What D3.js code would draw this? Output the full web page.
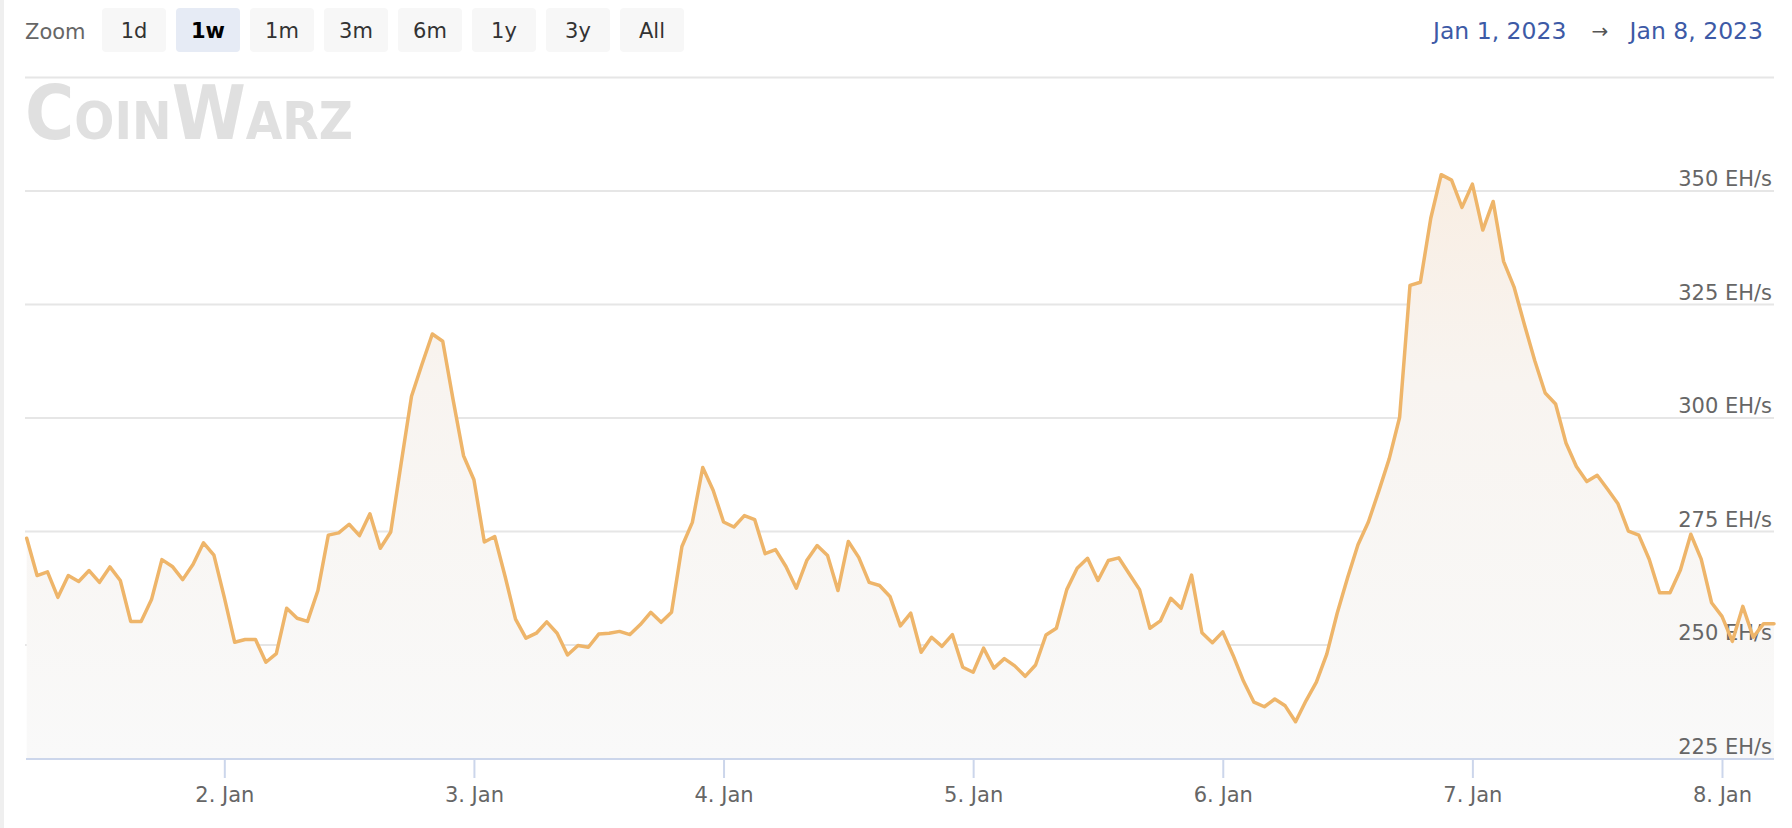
<!DOCTYPE html>
<html><head><meta charset="utf-8">
<script src="https://cdn.jsdelivr.net/npm/d3@7"></script>
<style>
html,body{margin:0;padding:0;background:#fff;}
svg{display:block;font-family:"DejaVu Sans",sans-serif;}
</style>
</head><body>
<svg id="chart" width="1792" height="828"></svg>
<script>
// ---------------- data ----------------
const startTime = "2023-01-01T05:00:00Z";   // first sample
const stepHours = 1;                          // hourly samples
const hashrate = [
 273.5,265.3,266.1,260.5,265.3,264.0,266.4,263.8,267.2,264.2,255.2,255.2,260.0,268.8,267.3,264.4,
 267.8,272.5,269.8,260.5,250.6,251.2,251.2,246.2,248.1,258.1,255.9,255.2,262.0,274.2,274.7,276.6,
 274.1,278.9,271.3,274.9,290.0,304.8,311.8,318.5,316.9,304.0,291.7,286.4,272.7,273.9,265.1,255.7,
 251.5,252.6,255.1,252.6,247.8,249.9,249.5,252.4,252.6,253.0,252.3,254.5,257.2,255.0,257.2,271.7,
 277.0,289.1,284.1,277.1,276.0,278.5,277.6,270.1,271.0,267.3,262.5,268.6,271.9,269.7,262.0,272.8,
 269.3,263.8,263.1,260.7,254.2,257.0,248.4,251.7,249.7,252.3,245.1,244.0,249.3,244.9,247.0,245.4,
 243.1,245.6,252.2,253.7,262.2,266.9,269.1,264.2,268.6,269.2,265.7,262.2,253.7,255.3,260.3,258.1,
 265.4,252.7,250.5,252.9,247.7,242.0,237.4,236.4,238.1,236.6,233.1,237.7,241.8,248.0,257.0,264.8,
 272.1,277.1,283.9,291.0,300.1,329.2,329.9,344.0,353.6,352.4,346.4,351.5,341.4,347.7,334.5,328.9,
 320.6,312.6,305.5,303.1,294.5,289.3,286.0,287.4,284.3,281.1,275.1,274.2,268.9,261.5,261.5,266.5,
 274.4,268.9,259.3,256.3,250.8,258.5,251.7,254.7,254.7
];
const yGridValues = [225, 250, 275, 300, 325, 350, 375];
const yLabelValues = [225, 250, 275, 300, 325, 350];
const yUnit = "EH/s";
const xTickDates = ["2023-01-02","2023-01-03","2023-01-04","2023-01-05","2023-01-06","2023-01-07","2023-01-08"];
const zoomButtons = ["1d","1w","1m","3m","6m","1y","3y","All"];
const selectedButton = "1w";
const zoomLabel = "Zoom";
const rangeFrom = "Jan 1, 2023";
const rangeTo = "Jan 8, 2023";
const watermark = "CoinWarz";

// ---------------- layout ----------------
const svg = d3.select("#chart");
const plot = {left: 26, right: 1774, top: 77.5, bottom: 758.5};
const t0 = new Date(startTime);
const times = hashrate.map((_, i) => new Date(t0.getTime() + i * stepHours * 3600e3));

const x = d3.scaleUtc().domain([times[0], times[times.length - 1]]).range([plot.left + 0.7, plot.right]);
const y = d3.scaleLinear().domain([225, 375]).range([plot.bottom, plot.top]);

svg.append("rect").attr("width", 1792).attr("height", 828).attr("fill", "#fff");
svg.append("rect").attr("x", 0).attr("y", 0).attr("width", 4).attr("height", 828).attr("fill", "#efefef");

// range selector
svg.append("text").attr("x", 25).attr("y", 38.5).attr("fill", "#666").attr("font-size", 21).text(zoomLabel);
const bg = svg.append("g");
zoomButtons.forEach((b, i) => {
  const bx = 102 + i * 74;
  const sel = b === selectedButton;
  bg.append("rect").attr("x", bx).attr("y", 8).attr("width", 64).attr("height", 44).attr("rx", 4)
    .attr("fill", sel ? "#e6ebf5" : "#f7f7f7");
  bg.append("text").attr("x", bx + 32).attr("y", 38).attr("text-anchor", "middle")
    .attr("font-size", 21).attr("font-weight", sel ? "bold" : "normal")
    .attr("fill", sel ? "#000" : "#333").text(b);
});

// date range
svg.append("text").attr("x", 1433).attr("y", 39).attr("font-size", 23.5).attr("fill", "#3d5aa6").text(rangeFrom);
svg.append("text").attr("x", 1600).attr("y", 38).attr("text-anchor", "middle").attr("font-size", 20).attr("fill", "#555").text("\u2192");
svg.append("text").attr("x", 1763).attr("y", 39).attr("text-anchor", "end").attr("font-size", 23.5).attr("fill", "#3d5aa6").text(rangeTo);

// gridlines
svg.append("g").selectAll("line").data(yGridValues.filter(v => v !== 225)).join("line")
  .attr("x1", plot.left - 1).attr("x2", plot.right).attr("y1", d => y(d)).attr("y2", d => y(d))
  .attr("stroke", "#e6e6e6").attr("stroke-width", 2);

// watermark logo
svg.append("text").attr("x", 25).attr("y", 139)
  .attr("font-family", "'DejaVu Sans',sans-serif").attr("font-weight", "bold")
  .attr("font-size", 74).style("font-variant", "small-caps")
  .attr("fill", "#e0e0e0")
  .attr("textLength", 328).attr("lengthAdjust", "spacingAndGlyphs")
  .text(watermark);

// area + line
const grad = svg.append("defs").append("linearGradient").attr("id", "ag")
  .attr("gradientUnits", "userSpaceOnUse").attr("x1", 0).attr("x2", 0).attr("y1", plot.top).attr("y2", plot.bottom);
grad.append("stop").attr("offset", 0).attr("stop-color", "#f9ebdd");
grad.append("stop").attr("offset", 0.45).attr("stop-color", "#f8f4f0");
grad.append("stop").attr("offset", 1).attr("stop-color", "#f9f9f9");

const area = d3.area().x((d, i) => x(times[i])).y0(plot.bottom).y1(d => y(d));
const line = d3.line().x((d, i) => x(times[i])).y(d => y(d));
svg.append("path").datum(hashrate).attr("d", area).attr("fill", "url(#ag)");

// y labels
svg.append("g").selectAll("text").data(yLabelValues).join("text")
  .attr("x", 1772).attr("y", d => y(d) - 5).attr("text-anchor", "end")
  .attr("font-size", 21).attr("fill", "#666").text(d => `${d} ${yUnit}`);

svg.append("path").datum(hashrate).attr("d", line).attr("fill", "none")
  .attr("stroke", "#eeb56a").attr("stroke-width", 3.5).attr("stroke-linejoin", "round").attr("stroke-linecap", "round");

// x axis
const xAxis = d3.axisBottom(x)
  .tickValues(xTickDates.map(d => new Date(d + "T00:00:00Z")))
  .tickFormat(d3.utcFormat("%-d. %b"))
  .tickSize(19).tickPadding(9);
const ax = svg.append("g").attr("transform", `translate(0,${plot.bottom + 0.5})`).call(xAxis);
ax.select(".domain").attr("stroke", "#ccd6eb").attr("stroke-width", 2).attr("d", `M${plot.left},0H${plot.right}`);
ax.selectAll(".tick line").attr("stroke", "#ccd6eb").attr("stroke-width", 2);
ax.selectAll(".tick text").attr("fill", "#666").attr("font-size", 21).attr("font-family", "DejaVu Sans, sans-serif");
</script>
</body></html>
